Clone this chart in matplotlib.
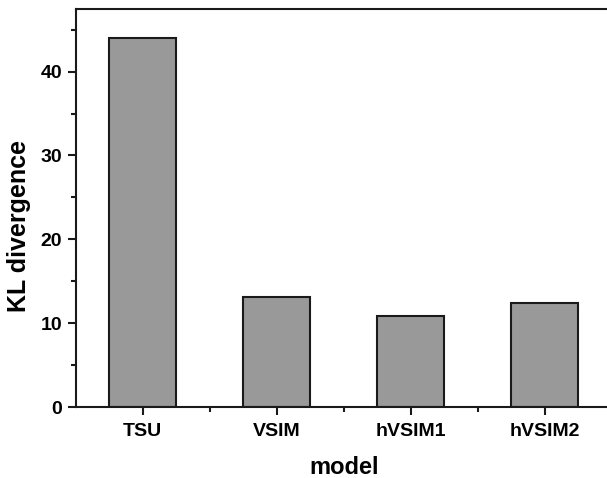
import numpy as np
import matplotlib
matplotlib.use('Agg')
import matplotlib.pyplot as plt
from matplotlib.ticker import MultipleLocator, FixedLocator

models = ['TSU', 'VSIM', 'hVSIM1', 'hVSIM2']
kl = [44.05, 13.18, 10.88, 12.4]

plt.rcParams['font.family'] = ['Liberation Sans', 'DejaVu Sans']
plt.rcParams['font.weight'] = 'bold'

fig = plt.figure(figsize=(6.07, 4.78), dpi=100)
ax = fig.add_axes([0.125, 0.148, 0.883, 0.834])

x = np.arange(1, len(models) + 1)
ax.bar(x, kl, width=0.5, color='#999999', edgecolor='#1a1a1a', linewidth=1.5)

ax.set_xlim(0.5, 4.5)
ax.set_ylim(0, 47.5)
ax.set_xticks(x)
ax.set_xticklabels(models)
ax.xaxis.set_minor_locator(FixedLocator(x[:-1] + 0.5))
ax.yaxis.set_major_locator(MultipleLocator(10))
ax.yaxis.set_minor_locator(MultipleLocator(5))

for s in ax.spines.values():
    s.set_linewidth(1.5)
    s.set_color('#1a1a1a')
ax.tick_params(which='major', length=6, width=1.5, labelsize=14, color='#1a1a1a')
ax.tick_params(which='minor', length=3.5, width=1.5, color='#1a1a1a')
ax.tick_params(axis='x', which='both', top=False, pad=5)
ax.tick_params(axis='y', which='both', right=False, pad=4)

ax.set_xlabel('model', fontsize=17, fontweight='bold', labelpad=12)
ax.set_ylabel('KL divergence', fontsize=18, fontweight='bold', labelpad=7)
# label sits a bit below the axes centre in the original
ax.yaxis.label.set_y(0.455)

fig.savefig('out.png', dpi=100)
